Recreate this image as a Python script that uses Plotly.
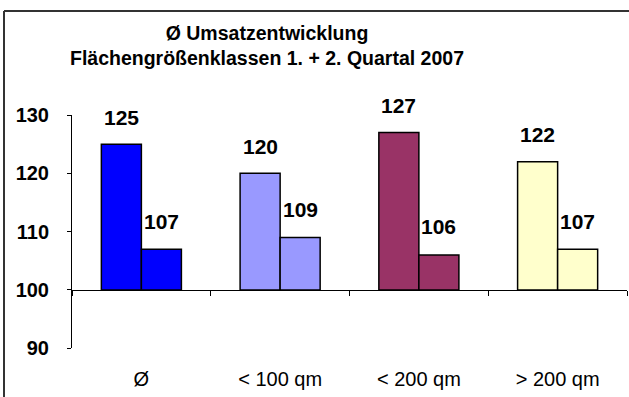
import plotly.graph_objects as go

categories = ["Ø", "< 100 qm", "< 200 qm", "> 200 qm"]
q1_values = [125, 120, 127, 122]
q2_values = [107, 109, 106, 107]
bar_colors = ["#0000FF", "#9999FF", "#993366", "#FFFFCC"]
baseline = 100
y_ticks = [90, 100, 110, 120, 130]
title_lines = ["Ø Umsatzentwicklung", "Flächengrößenklassen 1. + 2. Quartal 2007"]

FONT = "Arial, Liberation Sans, sans-serif"
W, H = 629, 397

fig = go.Figure()
for vals, name in [(q1_values, "1. Quartal"), (q2_values, "2. Quartal")]:
    fig.add_trace(go.Bar(
        x=categories,
        y=[v - baseline for v in vals],
        base=baseline,
        name=name,
        marker=dict(color=bar_colors, line=dict(color="black", width=1.5)),
        showlegend=False,
        hoverinfo="skip",
        cliponaxis=False,
    ))

# helper trace so the overlay axis at 100 knows the categories
fig.add_trace(go.Scatter(x=categories, y=[baseline] * len(categories), xaxis="x2",
                         mode="markers", marker=dict(opacity=0), showlegend=False,
                         hoverinfo="skip"))
# helper trace for the frame axes (left and top edge of the chart area)
fig.add_trace(go.Scatter(x=[0, 1], y=[0, 1], xaxis="x3", yaxis="y3",
                         mode="markers", marker=dict(opacity=0), showlegend=False,
                         hoverinfo="skip"))

annotations = []
for vals, shift, yshift in [(q1_values, -20, 27), (q2_values, 20, 28)]:
    for c, v in zip(categories, vals):
        annotations.append(dict(
            x=c, y=v, xref="x", yref="y", text=str(v), showarrow=False,
            xshift=shift, yshift=yshift, yanchor="middle",
            font=dict(family=FONT, size=21, color="black", weight="bold"),
        ))

# plot area in pixels, expressed as axis domains on a margin-free paper
L, T, R, B = 72, 115, 627, 348.3
x_dom = [L / W, R / W]
y_dom = [(H - B) / H, (H - T) / H]
y_range = [90, 130]
base_pos = y_dom[0] + (baseline - y_range[0]) / (y_range[1] - y_range[0]) * (y_dom[1] - y_dom[0])

fx, fy = 4 / W, 1 - 10.5 / H
frame_axis = dict(showline=True, linecolor="#333333", linewidth=2, ticks="",
                  showticklabels=False, showgrid=False, zeroline=False,
                  automargin=False, anchor="free", fixedrange=True)

fig.update_layout(
    width=W, height=H,
    margin=dict(l=0, r=0, t=0, b=0, pad=0),
    paper_bgcolor="white", plot_bgcolor="rgba(0,0,0,0)",
    barmode="group", bargap=0.423, bargroupgap=0,
    title=dict(text="<br>".join(title_lines),
               x=267 / W, xanchor="center", y=1 - 40 / H, yanchor="middle",
               font=dict(family=FONT, size=19.5, color="black", weight="bold")),
    xaxis=dict(domain=x_dom, type="category", categoryorder="array",
               categoryarray=categories, range=[-0.5, 3.5], showline=False,
               showgrid=False, ticks="", ticklabelstandoff=17, automargin=False,
               tickfont=dict(family=FONT, size=20, color="black")),
    xaxis2=dict(domain=x_dom, type="category", categoryorder="array",
                categoryarray=categories, range=[-0.5, 3.5], overlaying="x",
                anchor="free", position=base_pos, side="bottom", showline=True,
                linecolor="black", linewidth=1, ticks="outside",
                tickson="boundaries", ticklen=5, tickcolor="black",
                showgrid=False, showticklabels=False, automargin=False),
    yaxis=dict(domain=y_dom, range=y_range, tickvals=y_ticks, showline=True,
               linecolor="black", linewidth=1, ticks="outside", ticklen=4,
               tickcolor="black", showgrid=False, zeroline=False,
               ticklabelstandoff=14, automargin=False,
               tickfont=dict(family=FONT, size=20, color="black", weight="bold")),
    xaxis3=dict(domain=[fx, 1], range=[0, 1], position=fy, side="top", **frame_axis),
    yaxis3=dict(domain=[0, fy], range=[0, 1], position=fx, side="left", **frame_axis),
    annotations=annotations,
)

fig.write_html(
    "out.html",
    config={"displayModeBar": False},
    post_script="document.body.style.margin='0';document.body.style.overflow='hidden';"
                "document.documentElement.style.overflow='hidden';",
)
